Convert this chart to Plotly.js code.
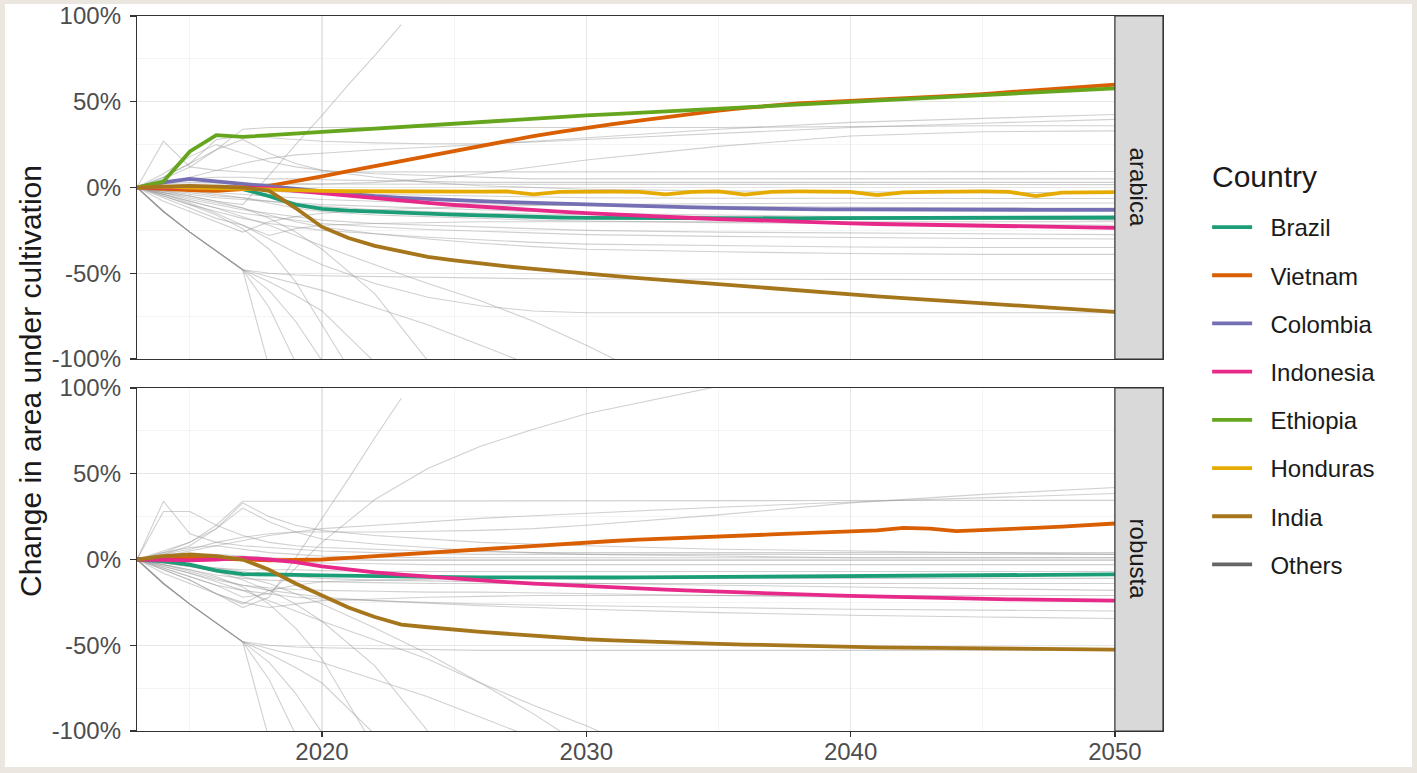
<!DOCTYPE html>
<html><head><meta charset="utf-8">
<script src="https://cdn.plot.ly/plotly-3.0.1.min.js"></script>
<style>
html,body{margin:0;padding:0;background:#ffffff;width:1417px;height:773px;overflow:hidden;}
#chart{position:absolute;left:0;top:0;width:1417px;height:773px;background:#fff;}
#frame{position:absolute;left:0;top:0;width:1417px;height:773px;box-sizing:border-box;
  border-style:solid;border-color:#ebe7e0;border-width:4px 5px 6px 5px;pointer-events:none;z-index:5;}
</style></head><body><div id="chart"></div><div id="frame"></div>
<script>
// ---------------- DATA ----------------
const years = [2013,2014,2015,2016,2017,2018,2019,2020,2021,2022,2023,2024,2025,2026,2027,2028,2029,2030,2031,2032,2033,2034,2035,2036,2037,2038,2039,2040,2041,2042,2043,2044,2045,2046,2047,2048,2049,2050];
const countries = ['Brazil','Vietnam','Colombia','Indonesia','Ethiopia','Honduras','India','Others'];
const facets = ['arabica','robusta'];

// arabica
const arabicaBrazil    = [0,0,0,0,-1,-5,-10,-12.5, -13.5,-14.2,-14.8,-15.3,-15.8, -16.3,-16.8,-17.2,-17.5,-17.7, -17.8,-17.9,-18,-18,-18, -18,-18,-18,-17.9,-17.9, -17.8,-17.8,-17.7,-17.7,-17.6, -17.6,-17.6,-17.5,-17.5,-17.5];
const arabicaVietnam   = [0,-1,-1.5,-2,-1,1,3.5,6.5, 9.5,12.5,15.5,18.5,21.5, 24.5,27.5,30,32.5,35, 37,39,41,43,44.8, 46.4,47.8,49,49.8,50.5, 51.5,52,52.5,53.5,54.5, 55.5,56.5,57.5,58.8,60];
const arabicaColombia  = [0,3,5,3.5,2,1,-1,-2.5, -3.8,-5,-6,-6.8,-7.4, -8,-8.5,-9,-9.5,-10, -10.5,-11,-11.3,-11.6,-11.9, -12.2,-12.4,-12.6,-12.8,-12.8, -12.9,-12.9,-13,-13,-13, -13,-13,-13,-13,-13];
const arabicaIndonesia = [0,0,0.5,0,0,-0.5,-2,-3.5, -5,-6.5,-7.8,-9,-10.2, -11.3,-12.3,-13.2,-14.1,-15, -15.8,-16.5,-17.2,-17.8,-18.4, -19,-19.5,-20,-20.5,-20.9, -21.3,-21.6,-21.9,-22.2,-22.5, -22.7,-22.9,-23.1,-23.3,-23.5];
const arabicaEthiopia  = [0,3.5,21,30.5,29.5,30.5,31.5,32.5, 33.3,34.2,35,36,37, 38,39,40,41,42, 42.8,43.6,44.4,45.3,46.2, 47,47.8,48.6,49.4,50.2, 51,51.8,52.5,53.3,54, 54.8,55.5,56.3,57,57.8];
const arabicaHonduras  = [0,0.5,0,-0.5,-0.5,-1,-1.5,-2, -2.2,-2.3,-2.5,-2.5,-2.5, -2.4,-2.3,-4,-2.5,-2.3, -2.4,-2.6,-4,-2.5,-2.3, -4.2,-2.5,-2.3,-2.4,-2.5, -4.5,-2.8,-2.5,-2.3,-2.3, -2.5,-5,-3,-2.8,-2.7];
const arabicaIndia     = [0,0.5,1,0.5,0,-2,-12,-23, -29.5,-34,-37.5,-40.5,-42.5, -44.5,-46,-47.5,-49,-50.3, -51.5,-52.8,-54,-55.3,-56.7, -58,-59.2,-60.3,-61.4,-62.4, -63.5,-64.5,-65.5,-66.5,-67.5, -68.5,-69.5,-70.5,-71.5,-72.5];

// robusta
const robustaBrazil    = [0,-1,-3,-6.5,-8.5,-8.5,-9,-9.3, -9.6,-9.8,-10,-10.2,-10.3, -10.4,-10.5,-10.6,-10.6,-10.6, -10.5,-10.4,-10.3,-10.2,-10.1, -10,-9.9,-9.8,-9.7,-9.6, -9.5,-9.4,-9.3,-9.2,-9.1, -9,-8.9,-8.8,-8.8,-8.7];
const robustaVietnam   = [0,0.5,1,0.5,0,-0.5,-0.3,0, 1,2,3,4,5, 6,7.3,8.3,9.2,10, 10.8,11.6,12.3,13,13.5, 14,14.6,15.2,15.8,16.4, 17,18.5,18,16.5,17, 17.8,18.5,19.2,20,21];
const robustaIndonesia = [0,-0.5,-0.5,0,1,0,-1.5,-4, -6,-7.5,-8.8,-10,-11, -12.1,-13.2,-14.1,-14.9,-15.6, -16.3,-17,-17.6,-18.2,-18.8, -19.3,-19.8,-20.3,-20.8,-21.2, -21.6,-22,-22.3,-22.6,-22.9, -23.2,-23.4,-23.6,-23.8,-24];
const robustaIndia     = [0,2,3,2,0,-6,-14,-21, -28,-33.5,-38,-39.5,-41, -42.2,-43.3,-44.5,-45.6,-46.5, -47.2,-47.8,-48.3,-48.8,-49.2, -49.6,-50,-50.3,-50.6,-50.9, -51.2,-51.4,-51.6,-51.8,-52, -52.2,-52.3,-52.4,-52.5,-52.5];

// "Others" countries (thin grey lines), values at these years
const othersYears = [2013,2014,2015,2016,2017,2018,2019,2020,2022,2024,2026,2028,2030,2035,2040,2045,2050];
const steepYears  = [2013,2014,2015,2016,2017,2018,2019,2020,2021,2022,2023];

const othersArabica = [
  [0,27,12,10,9,9,9,9,9,9,9,9,9,9.2,9.3,9.3,9.3],
  [0,5,12,22,34,35,35,35,35,35,35,35,35,35,35.5,36,36],
  [0,6,14,28,30,29,28,27,26,25.5,25.5,26.5,28,31.5,35,37.5,39.7],
  [0,1,2,2,2,2,2,2,3,5,8,12,16,24,30,32.5,33],
  [0,2,6,10,14,17,19,20,22,23.5,25,27,29,34,38,40.5,42.6],
  [0,2,3,3,2,2,2,2,2,2,2,2,2,2,2,2,1.7],
  [0,3,5,6,6,5,5,4.5,4,3.5,3,3,3,3,3,3,3],
  [0,1,1,0,-1,-2,-3,-3.5,-4,-4.5,-5,-5.5,-6,-6.3,-6.4,-6.4,-6.4],
  [0,-1,-2,-3,-4,-5,-6,-7,-8,-9,-9.5,-10,-10.5,-11,-11.5,-12,-12],
  [0,-2,-4,-6,-7,-8,-9,-10,-11,-12,-13,-14,-15,-16,-17,-18,-19],
  [0,-2,-3,-5,-6,-8,-10,-11,-13,-14,-15,-15.5,-16,-17,-17.5,-18,-18.5],
  [0,-3,-7,-10,-13,-15,-17,-19,-21,-22,-23,-24,-25,-26,-26.5,-27,-27.5],
  [0,-4,-8,-12,-15,-17,-19,-21,-23,-24.5,-25.5,-26.5,-27.5,-28.5,-29.2,-29.7,-30],
  [0,-5,-10,-14,-18,-21,-23,-25,-27,-29,-30.5,-32,-33,-34,-34.7,-35,-35],
  [0,-3,-6,-9,-12,-16,-20,-23,-27,-30,-32.5,-34.5,-36,-37.5,-38.5,-39,-39],
  [0,-1,-2,-4,-6,-9,-12,-14,-16,-17,-18,-19,-19.5,-20.5,-21,-21.5,-22],
  [0,8,18,25,20,15,12,10,8,7,6,5,5,5,5,5,5],
  [0,6,14,22,28,20,14,10,6,3,1,0,-1,-2,-2.5,-3,-3],
  [0,-8,-14,-20,-26,-20,-17,-15,-13,-12,-11,-10.5,-10,-9.5,-9,-9,-9],
  [0,-6,-12,-18,-22,-28,-24,-22,-21,-20.5,-20,-20,-20,-20,-20,-20,-20],
  [0,-14,-26,-37,-48,-105],
  [0,-14,-26,-37,-48,-70,-102],
  [0,-14,-26,-37,-48,-60,-78,-101],
  [0,-14,-26,-37,-48,-55,-63,-72,-102],
  [0,-14,-26,-37,-48,-50,-51,-51.5,-52,-52.5,-53,-53.2,-53.4,-53.6,-53.7,-53.7,-53.7],
  [0,-14,-26,-37,-48,-52,-56,-60,-70,-80,-92,-104],
  [0,-4,-9,-15,-22,-30,-38,-45,-56,-64,-69,-72,-73,-73,-73,-73,-73],
  [0,-4,-8,-12,-17,-22,-28,-34,-45,-56,-66,-78,-92,-130],
  [0,-5,-10,-16,-24,-36,-55,-80,-130],
  [0,-2,-5,-8,-12,-18,-26,-36,-62,-101]
];
const othersArabicaSteep = [
  [0,-3,-5,-8,-10,7,25,42,60,77,95]
];

const othersRobusta = [
  [0,34,15,10,8,7,6,5,4,3.5,3,3,3,3,3,3,3],
  [0,28,28,20,14,10,8,7,6,5,4.5,4,4,4,4,4,4],
  [0,4,10,20,34,34,34,34,34,34,34,34,34,34.2,34.4,34.5,34.5],
  [0,3,8,18,33,25,20,17,14,12,10,9,8,6,5,4,3],
  [0,5,10,18,30,22,16,12,9,7,5,4,3,2,1,1,1],
  [0,2,5,8,11,14,16,18,20,22,24,25.5,27,30.5,33.5,36,38.5],
  [0,3,6,10,13,15,16,16,16,16.5,17,18,20,26,33,38,42],
  [0,-5,-10,-15,-22,-20,-5,10,35,53,66,76,85,101],
  [0,2,3,3,2,1,0.5,0,-0.5,-0.5,-0.5,-0.5,-0.5,-0.5,-0.5,-0.5,-0.5],
  [0,4,7,8,6,4,3,2,1.5,1,1,1,1,1,1,1,1],
  [0,1,2,1,0,-1,-1.5,-2,-2.5,-3,-3,-3,-3,-3,-3,-3,-3],
  [0,-2,-4,-5,-6,-6,-6,-6.5,-7,-7,-7,-7,-7,-7,-7,-7,-7],
  [0,-3,-6,-9,-11,-12,-12.5,-13,-13.5,-14,-14,-14,-14,-14,-14,-14,-14],
  [0,-4,-8,-12,-15,-16.5,-17.5,-18,-18.5,-19,-19,-19.5,-20,-21,-22,-23,-24],
  [0,-5,-10,-15,-18,-20,-22,-23,-24,-25,-26,-26.5,-27,-28,-29,-29.5,-30],
  [0,-3,-7,-11,-15,-18,-20,-22,-24,-25.5,-27,-28,-29,-31,-32.5,-33.5,-34.4],
  [0,-1,-3,-5,-7,-9,-10,-11,-12,-12.5,-13,-13.5,-14,-15,-16,-17,-18],
  [0,-6,-12,-20,-26,-18,-15,-13,-12,-11.5,-11,-11,-11,-11,-11,-11,-11],
  [0,-8,-14,-20,-25,-28,-26,-24,-23,-22,-21.5,-21,-21,-21,-21,-21,-21],
  [0,-14,-26,-37,-48,-105],
  [0,-14,-26,-37,-48,-70,-102],
  [0,-14,-26,-37,-48,-60,-78,-101],
  [0,-14,-26,-37,-48,-55,-63,-72,-102],
  [0,-14,-26,-37,-48,-50,-51,-51.5,-52,-52.5,-53,-53,-53,-53,-53,-53,-53],
  [0,-14,-26,-37,-48,-52,-56,-60,-70,-80,-92,-104],
  [0,-4,-8,-13,-18,-24,-30,-36,-47,-58,-72,-85,-97,-130],
  [0,-3,-6,-10,-16,-26,-40,-58,-110],
  [0,-2,-4,-7,-12,-18,-26,-36,-62,-100],
  [0,-2,-4,-7,-10,-14,-20,-26,-40,-55,-72,-90,-110]
];
const othersRobustaSteep = [
  [0,-6,-12,-20,-28,-22,1,24,47,71,94]
];

const yTickVals = [-100,-50,0,50,100];
const yTickText = ['-100%','-50%','0%','50%','100%'];
const yMinorVals = [-75,-25,25,75];
const xTickVals = [2020,2030,2040,2050];
const xMinorVals = [2015,2025,2035,2045];

const colors = {Brazil:'#1B9E77', Vietnam:'#D95F02', Colombia:'#7570B3', Indonesia:'#E7298A',
                Ethiopia:'#66A61E', Honduras:'#E6AB02', India:'#A6761D', Others:'#666666'};

const arabicaSeries = {Brazil:arabicaBrazil, Vietnam:arabicaVietnam, Colombia:arabicaColombia,
  Indonesia:arabicaIndonesia, Ethiopia:arabicaEthiopia, Honduras:arabicaHonduras, India:arabicaIndia};
const robustaSeries = {Brazil:robustaBrazil, Vietnam:robustaVietnam, Indonesia:robustaIndonesia, India:robustaIndia};

// ---------------- TRACES ----------------
const FONT = 'Liberation Sans, Arial, Helvetica, sans-serif';
const GRAY = 'rgba(150,150,150,0.45)';
const NB = '\u00a0\u00a0';
const traces = [];
function addGray(xs, ys, xa, ya){
  traces.push({type:'scatter', mode:'lines', x:xs, y:ys, xaxis:xa, yaxis:ya,
    line:{color:GRAY, width:1.1}, showlegend:false, hoverinfo:'skip', legendgroup:'Others'});
}
othersArabica.forEach(s => addGray(othersYears, s, 'x', 'y'));
othersArabicaSteep.forEach(s => addGray(steepYears, s, 'x', 'y'));
othersRobusta.forEach(s => addGray(othersYears, s, 'x2', 'y2'));
othersRobustaSteep.forEach(s => addGray(steepYears, s, 'x2', 'y2'));

countries.slice(0,7).forEach(c => {
  traces.push({type:'scatter', mode:'lines', name:NB + c, x:years, y:arabicaSeries[c], xaxis:'x', yaxis:'y',
    line:{color:colors[c], width:3.8}, legendgroup:c, showlegend:true, hoverinfo:'skip'});
});
countries.slice(0,7).forEach(c => {
  if (!robustaSeries[c]) return;
  traces.push({type:'scatter', mode:'lines', name:NB + c, x:years, y:robustaSeries[c], xaxis:'x2', yaxis:'y2',
    line:{color:colors[c], width:3.8}, legendgroup:c, showlegend:false, hoverinfo:'skip'});
});
// legend entry for the grey "Others" lines
traces.push({type:'scatter', mode:'lines', name:NB + 'Others', x:[null], y:[null], xaxis:'x', yaxis:'y',
  line:{color:colors.Others, width:3.8}, legendgroup:'Others', showlegend:true, hoverinfo:'skip'});

// ---------------- LAYOUT ----------------
const tickFont = {family:FONT, size:24, color:'#4d4d4d'};
function xAxis(bottom, anchor){
  return {anchor:anchor, range:[2013, 2051.82], tickvals:xTickVals, showticklabels:bottom,
    ticks: bottom ? 'outside' : '', ticklen:5, tickwidth:1.2, tickcolor:'#333', tickfont:tickFont,
    ticklabelstandoff:-6, ticklabeloverflow:'allow',
    showgrid:true, gridcolor:'#e6e6e6', gridwidth:1.2,
    minor:{tickvals:xMinorVals, showgrid:true, gridcolor:'#f1f1f1', gridwidth:0.8},
    zeroline:false, showline:true, mirror:true, linecolor:'#333', linewidth:1.2, fixedrange:true};
}
function yAxis(domain, anchor){
  return {anchor:anchor, domain:domain, range:[-100,100], tickvals:yTickVals, ticktext:yTickText,
    ticks:'outside', ticklen:6, tickwidth:1.2, tickcolor:'#333', tickfont:tickFont, ticklabelstandoff:4,
    ticklabeloverflow:'allow',
    showgrid:true, gridcolor:'#e6e6e6', gridwidth:1.2,
    minor:{tickvals:yMinorVals, showgrid:true, gridcolor:'#f1f1f1', gridwidth:0.8},
    zeroline:false, showline:true, mirror:true, linecolor:'#333', linewidth:1.2, fixedrange:true};
}
const stripEnd = 2051.82;
const layout = {
  width:1417, height:773,
  margin:{l:137, r:254, t:16, b:42, pad:0},
  paper_bgcolor:'#ffffff', plot_bgcolor:'#ffffff',
  font:{family:FONT, color:'#1a1a1a'},
  xaxis: xAxis(false, 'y'),
  yaxis: yAxis([0.5203, 1], 'x'),
  xaxis2: xAxis(true, 'y2'),
  yaxis2: yAxis([0, 0.4797], 'x2'),
  showlegend:true,
  legend:{x:1.043, xanchor:'left', y:0.7357, yanchor:'top', traceorder:'grouped', tracegroupgap:14,
    font:{family:FONT, size:24, color:'#1a1a1a'}, bgcolor:'rgba(0,0,0,0)', itemwidth:40},
  shapes:[
    {type:'rect', xref:'x', yref:'y domain', x0:2050, x1:stripEnd, y0:0, y1:1,
      fillcolor:'#d9d9d9', line:{color:'#333', width:1.2}, layer:'above'},
    {type:'rect', xref:'x2', yref:'y2 domain', x0:2050, x1:stripEnd, y0:0, y1:1,
      fillcolor:'#d9d9d9', line:{color:'#333', width:1.2}, layer:'above'}
  ],
  annotations:[
    {text:facets[0], xref:'x', yref:'y domain', x:(2050+stripEnd)/2, y:0.5, showarrow:false,
      textangle:90, font:{family:FONT, size:24, color:'#1a1a1a'}},
    {text:facets[1], xref:'x2', yref:'y2 domain', x:(2050+stripEnd)/2, y:0.5, showarrow:false,
      textangle:90, font:{family:FONT, size:24, color:'#1a1a1a'}},
    {text:'Change in area under cultivation', xref:'paper', yref:'paper', x:-0.1043, y:0.4895,
      xanchor:'center', yanchor:'middle', showarrow:false, textangle:-90,
      font:{family:FONT, size:30, color:'#1a1a1a'}},
    {text:'Country', xref:'paper', yref:'paper', x:1.0458, y:0.7755, xanchor:'left', yanchor:'middle',
      showarrow:false, font:{family:FONT, size:30, color:'#1a1a1a'}}
  ]
};
Plotly.newPlot('chart', traces, layout, {staticPlot:true, displayModeBar:false});
</script></body></html>
